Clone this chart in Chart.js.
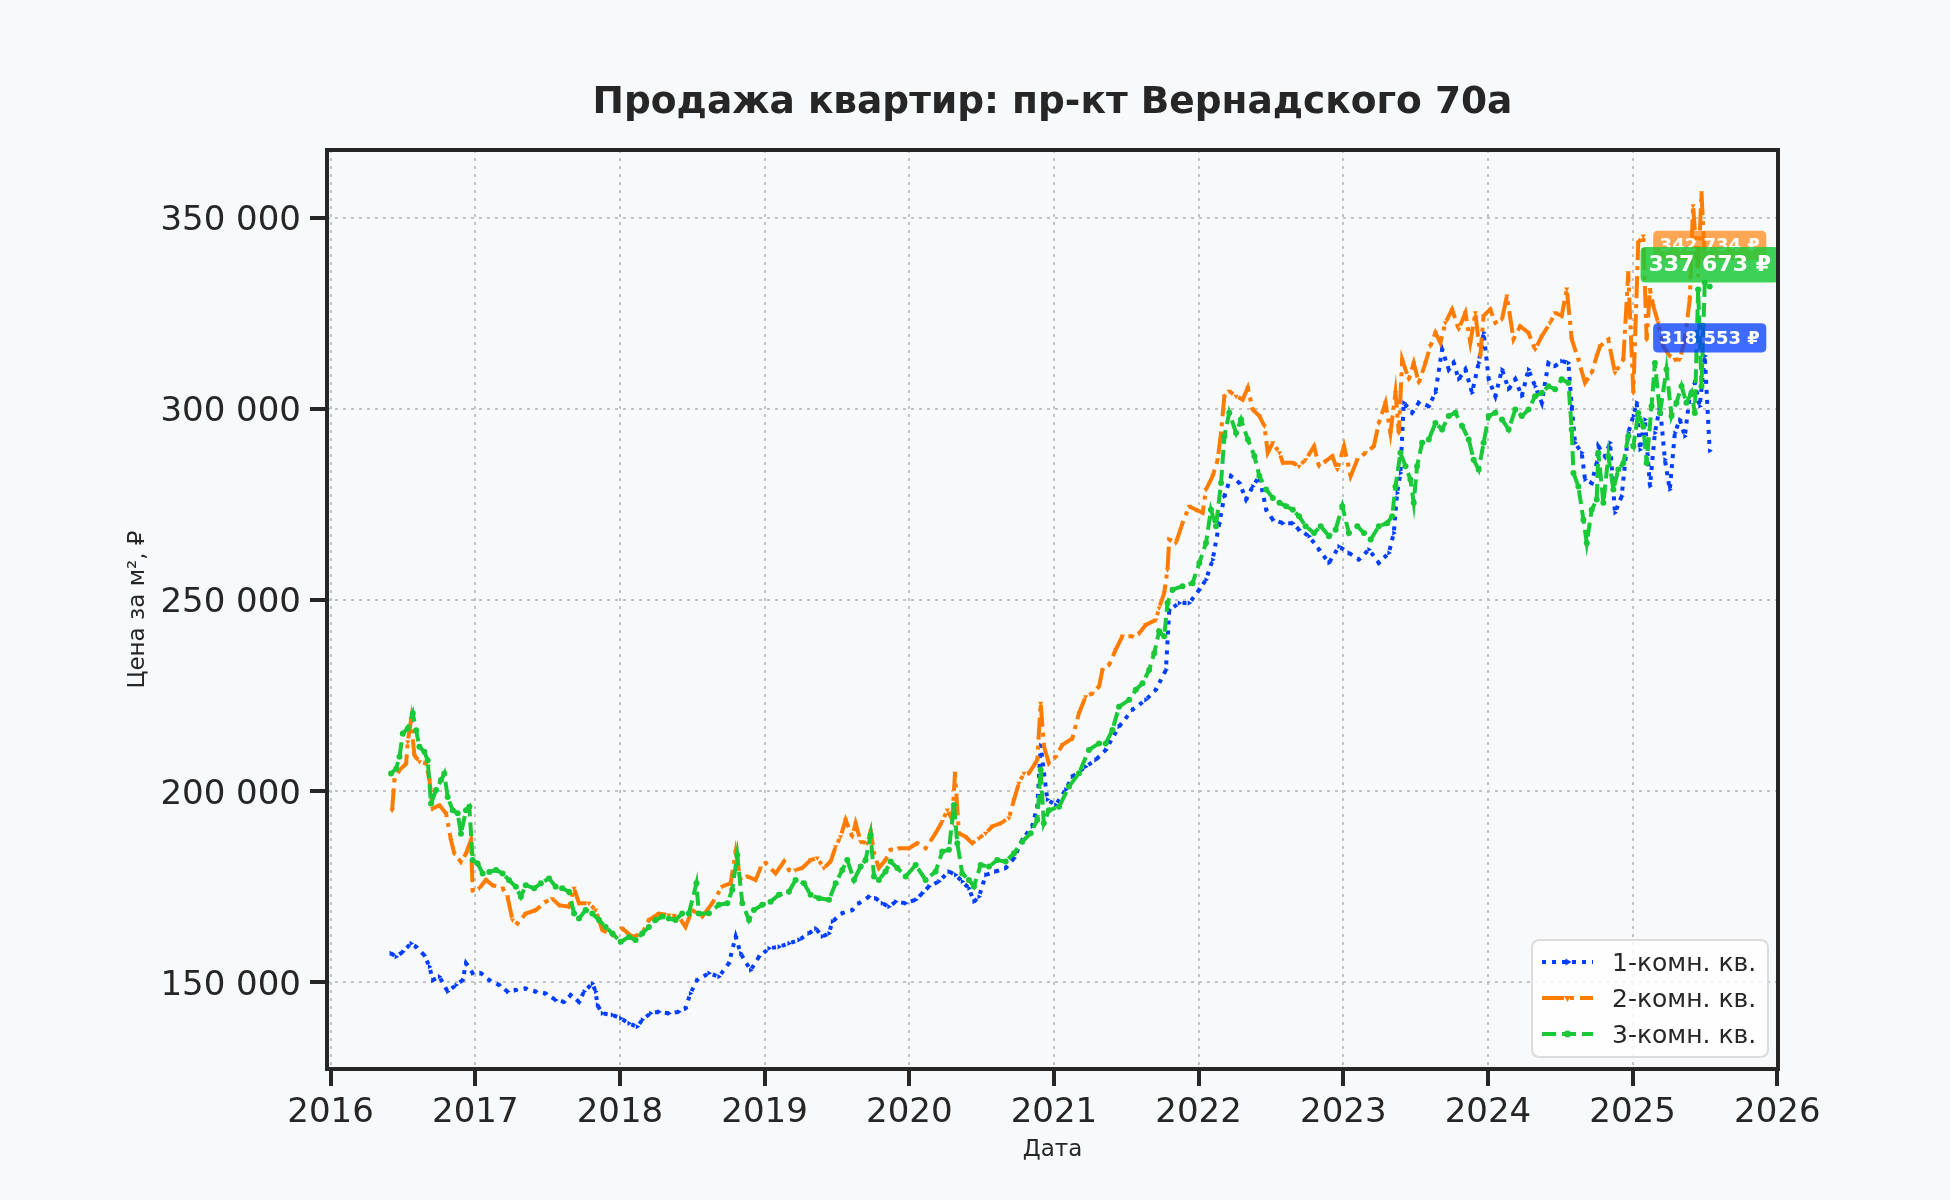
<!DOCTYPE html>
<html>
<head>
<meta charset="utf-8">
<script src="https://cdn.jsdelivr.net/npm/chart.js@4.4.1/dist/chart.umd.min.js"></script>
<style>
html,body{margin:0;padding:0;background:#f8f9fa;}
canvas{display:block;}
</style>
</head>
<body>
<canvas id="c" width="1950" height="1200" style="width:1950px;height:1200px"></canvas>
<script>
// ---------- DATA (decimal years / price per m², ₽) ----------
const chartTitle = 'Продажа квартир: пр-кт Вернадского 70а';
const xAxisLabel = 'Дата';
const yAxisLabel = 'Цена за м², ₽';
const seriesNames = ['1-комн. кв.', '2-комн. кв.', '3-комн. кв.'];
const xTickYears = [2016, 2017, 2018, 2019, 2020, 2021, 2022, 2023, 2024, 2025, 2026];
const yTickValues = [150000, 200000, 250000, 300000, 350000];
const endLabelValues = [318553, 342734, 337673];

const datesOneRoom = [2016.418,2016.453,2016.499,2016.556,2016.591,2016.648,2016.683,2016.706,2016.752,2016.809,2016.867,2016.913,2016.936,2016.982,2017.039,2017.097,2017.166,2017.223,2017.280,2017.349,2017.418,2017.487,2017.556,2017.614,2017.660,2017.717,2017.752,2017.809,2017.832,2017.844,2017.878,2017.947,2018.005,2018.062,2018.120,2018.154,2018.211,2018.269,2018.338,2018.407,2018.453,2018.487,2018.533,2018.615,2018.684,2018.753,2018.800,2018.834,2018.903,2018.961,2019.030,2019.100,2019.168,2019.237,2019.306,2019.353,2019.399,2019.445,2019.468,2019.537,2019.606,2019.652,2019.721,2019.767,2019.813,2019.859,2019.906,2019.975,2020.044,2020.090,2020.136,2020.205,2020.274,2020.320,2020.366,2020.412,2020.447,2020.482,2020.528,2020.597,2020.666,2020.724,2020.781,2020.850,2020.885,2020.908,2020.954,2021.012,2021.081,2021.127,2021.219,2021.289,2021.358,2021.450,2021.543,2021.635,2021.704,2021.774,2021.797,2021.866,2021.935,2022.005,2022.051,2022.097,2022.143,2022.178,2022.224,2022.282,2022.328,2022.374,2022.420,2022.467,2022.513,2022.582,2022.651,2022.694,2022.763,2022.832,2022.901,2022.970,2023.039,2023.108,2023.177,2023.246,2023.315,2023.349,2023.372,2023.395,2023.418,2023.476,2023.522,2023.591,2023.637,2023.683,2023.729,2023.763,2023.798,2023.844,2023.890,2023.936,2023.970,2024.005,2024.051,2024.097,2024.143,2024.189,2024.234,2024.280,2024.326,2024.372,2024.418,2024.464,2024.510,2024.556,2024.579,2024.602,2024.648,2024.671,2024.717,2024.752,2024.763,2024.809,2024.844,2024.878,2024.924,2024.970,2025.005,2025.028,2025.051,2025.085,2025.120,2025.154,2025.189,2025.223,2025.257,2025.292,2025.326,2025.361,2025.395,2025.430,2025.464,2025.499,2025.533];
const pricesOneRoom = [157600,156700,158000,160200,159300,157100,154100,150600,151500,147600,149300,150600,155000,152400,152400,150600,149300,147600,148000,148400,147600,147100,145400,144900,146700,144900,147600,149700,147600,144100,141900,141500,140600,139300,138400,140200,141900,142300,141900,142300,143200,147100,150600,152400,151500,155000,162000,157600,153200,156700,158900,159300,160200,161100,162800,164100,162000,162800,165900,168100,168900,170700,172400,172000,170700,169800,171100,170700,171600,173300,175100,176400,179000,178100,176400,174600,171100,172400,178100,179000,179900,182500,187300,190800,196000,212000,197800,196400,200400,203800,206400,208200,210800,216900,221300,223900,226500,231700,247400,249200,249200,252700,255300,260500,270100,277100,282400,280600,276300,279700,282400,273600,271000,270100,270100,268400,266700,263200,259700,264000,262300,260600,263200,259700,262300,267500,278000,283200,301600,299000,301600,300700,304200,315500,310300,312000,307700,310300,304200,312000,319900,307700,303300,310300,305100,307700,303300,310300,305900,301600,312000,311200,312500,312000,300700,291100,288500,281500,280600,285900,290200,287600,291100,272800,277100,293700,298100,301600,289300,297200,279800,293700,300700,286700,278900,293700,297200,292800,303300,306800,300700,313800,289000];

const datesTwoRoom = [2016.425,2016.441,2016.476,2016.522,2016.533,2016.556,2016.579,2016.614,2016.660,2016.683,2016.706,2016.752,2016.798,2016.832,2016.855,2016.901,2016.936,2016.970,2016.982,2017.028,2017.074,2017.120,2017.189,2017.223,2017.257,2017.292,2017.349,2017.418,2017.487,2017.533,2017.579,2017.648,2017.683,2017.717,2017.786,2017.832,2017.878,2017.947,2018.016,2018.085,2018.154,2018.200,2018.269,2018.338,2018.407,2018.453,2018.499,2018.569,2018.638,2018.707,2018.765,2018.800,2018.834,2018.880,2018.938,2018.972,2019.007,2019.076,2019.134,2019.168,2019.214,2019.260,2019.318,2019.364,2019.410,2019.456,2019.491,2019.525,2019.560,2019.606,2019.629,2019.664,2019.710,2019.733,2019.756,2019.790,2019.836,2019.871,2019.929,2019.998,2020.055,2020.113,2020.182,2020.228,2020.263,2020.297,2020.316,2020.343,2020.389,2020.435,2020.482,2020.528,2020.574,2020.631,2020.689,2020.724,2020.758,2020.793,2020.827,2020.885,2020.908,2020.931,2020.965,2021.012,2021.058,2021.127,2021.173,2021.219,2021.266,2021.312,2021.335,2021.381,2021.427,2021.473,2021.543,2021.589,2021.635,2021.704,2021.727,2021.762,2021.785,2021.797,2021.843,2021.889,2021.935,2021.982,2022.028,2022.051,2022.097,2022.132,2022.155,2022.178,2022.212,2022.259,2022.305,2022.340,2022.374,2022.420,2022.455,2022.478,2022.513,2022.559,2022.582,2022.651,2022.694,2022.740,2022.798,2022.832,2022.878,2022.924,2022.959,2023.005,2023.051,2023.097,2023.154,2023.211,2023.246,2023.292,2023.326,2023.361,2023.384,2023.407,2023.453,2023.487,2023.522,2023.568,2023.602,2023.637,2023.671,2023.706,2023.752,2023.798,2023.844,2023.878,2023.913,2023.947,2023.970,2024.016,2024.051,2024.097,2024.131,2024.177,2024.223,2024.280,2024.326,2024.372,2024.430,2024.464,2024.510,2024.545,2024.579,2024.625,2024.671,2024.717,2024.752,2024.775,2024.832,2024.878,2024.936,2024.970,2025.005,2025.039,2025.074,2025.097,2025.120,2025.143,2025.177,2025.211,2025.257,2025.292,2025.326,2025.361,2025.395,2025.418,2025.453,2025.476,2025.499,2025.533];
const pricesTwoRoom = [195000,202900,205500,207200,212900,218600,209400,207700,207200,202900,195500,196300,194200,187200,183700,181500,183700,187200,174100,174600,176800,175400,174600,172400,166300,165400,168000,168900,171100,171900,170200,169800,174600,170700,170700,168900,163700,162400,164100,161900,162800,166300,168000,167600,167200,164500,168900,167200,170700,175100,175900,184200,176800,177700,176800,179900,181200,178500,181600,179400,179400,179900,182000,182500,179900,181600,185500,188100,192500,188100,191600,186800,186400,189500,183800,179900,182000,184700,185100,185100,186400,185100,189000,192100,195100,192500,204700,189000,188100,186400,187700,189000,190800,191600,193000,197800,202100,204700,204700,208200,223000,211700,207300,209000,212100,213800,220400,224700,225600,227400,231700,233000,237000,240500,240500,241300,243500,244800,247900,251800,257900,265800,264900,270100,274500,273600,272800,278900,282400,286700,293700,303300,304600,303300,302400,305500,299800,298100,295500,288500,291100,288500,285900,285900,285000,286700,290200,285000,286300,287600,284100,290200,282400,286700,288500,290200,296300,301600,293700,304200,293700,312900,307700,312000,306800,312000,316400,319900,317300,322500,326000,320800,325100,317300,325100,313800,324300,326000,322500,323400,329500,318200,321600,319900,315500,319000,322500,325100,324300,331300,318200,312900,306800,309400,313800,316400,318100,309400,312900,335600,304200,343500,345200,318100,331200,326900,322500,316400,313800,312900,312900,318100,328600,353100,334700,356500,339100,342000];

const datesThreeRoom = [2016.418,2016.453,2016.476,2016.499,2016.533,2016.568,2016.591,2016.614,2016.648,2016.671,2016.694,2016.729,2016.763,2016.786,2016.809,2016.844,2016.878,2016.901,2016.936,2016.959,2016.982,2017.016,2017.051,2017.097,2017.143,2017.189,2017.234,2017.280,2017.315,2017.349,2017.407,2017.453,2017.510,2017.556,2017.602,2017.648,2017.683,2017.717,2017.763,2017.809,2017.855,2017.901,2017.947,2018.005,2018.062,2018.108,2018.154,2018.200,2018.246,2018.292,2018.338,2018.384,2018.430,2018.476,2018.529,2018.545,2018.615,2018.684,2018.742,2018.776,2018.811,2018.846,2018.892,2018.926,2018.984,2019.041,2019.099,2019.168,2019.214,2019.272,2019.318,2019.376,2019.445,2019.491,2019.537,2019.571,2019.618,2019.664,2019.698,2019.733,2019.756,2019.790,2019.836,2019.871,2019.917,2019.975,2020.044,2020.113,2020.182,2020.228,2020.274,2020.309,2020.332,2020.366,2020.412,2020.447,2020.493,2020.551,2020.608,2020.666,2020.724,2020.781,2020.839,2020.885,2020.908,2020.930,2020.965,2021.035,2021.104,2021.173,2021.242,2021.312,2021.358,2021.404,2021.450,2021.520,2021.566,2021.612,2021.658,2021.693,2021.727,2021.762,2021.785,2021.820,2021.889,2021.958,2022.005,2022.051,2022.085,2022.120,2022.155,2022.178,2022.212,2022.259,2022.293,2022.340,2022.386,2022.420,2022.467,2022.513,2022.559,2022.605,2022.651,2022.694,2022.740,2022.798,2022.844,2022.901,2022.947,2022.993,2023.039,2023.097,2023.143,2023.189,2023.246,2023.303,2023.338,2023.361,2023.395,2023.430,2023.464,2023.487,2023.510,2023.545,2023.591,2023.637,2023.683,2023.729,2023.775,2023.821,2023.867,2023.901,2023.936,2023.970,2024.005,2024.051,2024.097,2024.143,2024.189,2024.234,2024.280,2024.326,2024.372,2024.418,2024.464,2024.510,2024.556,2024.579,2024.591,2024.625,2024.660,2024.683,2024.717,2024.752,2024.763,2024.798,2024.832,2024.867,2024.901,2024.936,2024.970,2025.005,2025.039,2025.074,2025.097,2025.131,2025.154,2025.189,2025.234,2025.269,2025.303,2025.338,2025.372,2025.407,2025.430,2025.453,2025.476,2025.499,2025.533];
const pricesThreeRoom = [204600,205900,209000,215100,216400,220300,215900,211600,210300,208100,196800,200300,202900,204600,198500,195000,194200,188900,195000,195900,182000,181100,178500,178900,179400,178500,176700,175000,172400,175400,174600,175900,177200,175000,174600,173700,168000,166700,168900,168000,166300,164500,162800,160600,161900,161100,162800,164500,166300,167200,166700,166300,168000,168000,175900,168000,168100,170300,170700,174200,183300,170700,166300,168900,170300,171100,172900,173700,176800,175900,172900,172000,171600,175900,179400,182000,176800,180300,182000,188600,177700,176800,179000,181600,179900,177700,180700,176800,179000,184200,184700,196400,186400,178500,176800,175100,180700,180300,182000,181600,183800,186800,189000,192500,205600,191600,195000,195900,201200,204700,210800,212500,212500,216000,222100,223900,226500,228200,231700,236100,241800,240500,249200,252700,253600,254400,259700,264900,273600,269300,280600,292800,299000,293700,297200,292000,287600,282400,278900,276700,275400,274500,273600,271900,269300,267500,269300,266700,268400,274500,267500,269300,267500,265800,269300,270100,271900,279700,288500,285000,281500,275400,285000,291100,292000,296300,294600,298100,299000,295500,292000,286700,284100,291100,298100,299000,297200,294600,299800,298100,299800,303300,304200,305900,305100,307700,306800,294600,283200,279700,271000,264900,273600,276300,288500,275400,287600,278900,284100,285800,292800,290200,298900,295400,285800,300700,312000,298900,310300,298100,301600,305900,301600,304200,298900,331200,305900,333000,332000];

// ---------- STYLE ----------
const FONT = "'DejaVu Sans', 'Liberation Sans', sans-serif";
const TEXT = '#262626';
const COLORS = ['#023eff', '#ff7c00', '#1ac938'];
const DASHES = [[4, 6], [22, 6, 4, 6], [14, 6]];
const MARKERS = ['right', 'down', 'circle'];
const LABEL_FILL = ['rgba(2,62,255,0.76)', 'rgba(255,124,0,0.66)', 'rgba(26,201,56,0.84)'];
const LABEL_FONT = [18, 18, 22];

function spaced(v) {
  return String(Math.round(v)).replace(/\B(?=(\d{3})+(?!\d))/g, ' ');
}
function toPoints(xs, ys) { return xs.map((x, i) => ({x: x, y: ys[i]})); }

const allDates = [datesOneRoom, datesTwoRoom, datesThreeRoom];
const allPrices = [pricesOneRoom, pricesTwoRoom, pricesThreeRoom];

function drawMarker(ctx, kind, x, y, r, color) {
  ctx.save();
  ctx.fillStyle = color;
  ctx.setLineDash([]);
  ctx.beginPath();
  if (kind === 'right') {
    ctx.moveTo(x + r, y);
    ctx.lineTo(x - r / 2, y - r * 0.866);
    ctx.lineTo(x - r / 2, y + r * 0.866);
  } else if (kind === 'down') {
    ctx.moveTo(x, y + r);
    ctx.lineTo(x - r * 0.866, y - r / 2);
    ctx.lineTo(x + r * 0.866, y - r / 2);
  } else {
    ctx.arc(x, y, r * 0.85, 0, Math.PI * 2);
  }
  ctx.closePath();
  ctx.fill();
  ctx.restore();
}

function roundRect(ctx, x, y, w, h, r) {
  ctx.beginPath();
  ctx.moveTo(x + r, y);
  ctx.lineTo(x + w - r, y);
  ctx.quadraticCurveTo(x + w, y, x + w, y + r);
  ctx.lineTo(x + w, y + h - r);
  ctx.quadraticCurveTo(x + w, y + h, x + w - r, y + h);
  ctx.lineTo(x + r, y + h);
  ctx.quadraticCurveTo(x, y + h, x, y + h - r);
  ctx.lineTo(x, y + r);
  ctx.quadraticCurveTo(x, y, x + r, y);
  ctx.closePath();
}

const decorPlugin = {
  id: 'decor',
  beforeDraw(chart) {
    const ctx = chart.ctx;
    ctx.save();
    ctx.fillStyle = '#f8f9fa';
    ctx.fillRect(0, 0, chart.width, chart.height);
    ctx.restore();
  },
  afterDatasetsDraw(chart) {
    const {ctx, scales} = chart;
    [0, 1, 2].forEach(i => {
      const d = allDates[i];
      const cx = scales.x.getPixelForValue(d[d.length - 1]);
      const cy = scales.y.getPixelForValue(endLabelValues[i]);
      const fs = LABEL_FONT[i];
      ctx.save();
      ctx.font = 'bold ' + fs + 'px ' + FONT;
      const text = spaced(endLabelValues[i]) + ' ₽';
      const tw = ctx.measureText(text).width;
      const padX = fs * 0.36, h = fs * 1.62;
      const w = tw + 2 * padX;
      ctx.fillStyle = LABEL_FILL[i];
      roundRect(ctx, cx - w / 2, cy - h / 2, w, h, 5);
      ctx.fill();
      ctx.fillStyle = '#ffffff';
      ctx.textAlign = 'center';
      ctx.textBaseline = 'middle';
      ctx.fillText(text, cx, cy + 1);
      ctx.restore();
    });
  },
  afterDraw(chart) {
    const {ctx, chartArea: ca} = chart;
    // title, centred over the plot area
    ctx.save();
    ctx.fillStyle = TEXT;
    ctx.font = 'bold 37.5px ' + FONT;
    ctx.textAlign = 'center';
    ctx.textBaseline = 'middle';
    ctx.fillText(chartTitle, (ca.left + ca.right) / 2, 103);
    ctx.restore();
    // spines
    ctx.save();
    ctx.strokeStyle = TEXT;
    ctx.lineWidth = 4;
    ctx.setLineDash([]);
    ctx.strokeRect(ca.left, ca.top, ca.right - ca.left, ca.bottom - ca.top);
    ctx.restore();
    // legend
    const lw = 236, lh = 117;
    const lx = ca.right - 10 - lw, ly = ca.bottom - 12 - lh;
    ctx.save();
    roundRect(ctx, lx, ly, lw, lh, 8);
    ctx.fillStyle = 'rgba(255,255,255,0.82)';
    ctx.fill();
    ctx.strokeStyle = '#dcdcdc';
    ctx.lineWidth = 2;
    ctx.stroke();
    for (let i = 0; i < 3; i++) {
      const ry = ly + 22 + i * 36;
      ctx.save();
      ctx.strokeStyle = COLORS[i];
      ctx.lineWidth = 4;
      ctx.lineCap = 'butt';
      ctx.setLineDash(DASHES[i]);
      ctx.beginPath();
      ctx.moveTo(lx + 10, ry);
      ctx.lineTo(lx + 61, ry);
      ctx.stroke();
      ctx.restore();
      drawMarker(ctx, MARKERS[i], lx + 35.5, ry, 4, COLORS[i]);
      ctx.fillStyle = TEXT;
      ctx.font = '25px ' + FONT;
      ctx.textAlign = 'left';
      ctx.textBaseline = 'middle';
      ctx.fillText(seriesNames[i], lx + 80, ry + 2);
    }
    ctx.restore();
  }
};

Chart.defaults.font.family = FONT;
Chart.defaults.color = TEXT;

const pointStyles = ['triangle', 'triangle', 'circle'];
const pointRotations = [90, 180, 0];

const datasets = [0, 1, 2].map(i => ({
  label: seriesNames[i],
  data: toPoints(allDates[i], allPrices[i]),
  borderColor: COLORS[i],
  backgroundColor: COLORS[i],
  borderWidth: 4,
  borderDash: DASHES[i],
  borderCapStyle: 'butt',
  borderJoinStyle: 'miter',
  tension: 0,
  pointStyle: pointStyles[i],
  pointRotation: pointRotations[i],
  pointRadius: 3,
  pointBorderWidth: 0,
  pointBackgroundColor: COLORS[i],
  fill: false,
  order: 3 - i
}));

new Chart(document.getElementById('c'), {
  type: 'line',
  data: { datasets: datasets },
  plugins: [decorPlugin],
  options: {
    responsive: false,
    animation: false,
    devicePixelRatio: 1,
    layout: { padding: { top: 150, left: 0, right: 172, bottom: 0 } },
    plugins: {
      legend: { display: false },
      tooltip: { enabled: false },
      title: { display: false }
    },
    scales: {
      x: {
        type: 'linear',
        min: 2015.975,
        max: 2026.005,
        afterFit(scale) { scale.height = 131; },
        afterBuildTicks(scale) { scale.ticks = xTickYears.map(v => ({value: v})); },
        ticks: {
          stepSize: 1,
          includeBounds: false,
          autoSkip: false,
          maxRotation: 0,
          minRotation: 0,
          padding: 7,
          color: TEXT,
          font: { size: 34 },
          callback: v => String(v)
        },
        grid: {
          color: '#c2c2c2',
          lineWidth: 2,
          borderDash: [3, 5],
          drawTicks: true,
          tickLength: 17,
          tickWidth: 4,
          tickColor: TEXT,
          tickBorderDash: []
        },
        border: { display: false, dash: [3, 5] },
        title: {
          display: true,
          text: xAxisLabel,
          color: TEXT,
          font: { size: 23, lineHeight: 1.2 },
          padding: { top: 0, bottom: 36 }
        }
      },
      y: {
        type: 'linear',
        min: 127350,
        max: 367680,
        afterFit(scale) { scale.width = 327; },
        afterBuildTicks(scale) { scale.ticks = yTickValues.map(v => ({value: v})); },
        ticks: {
          stepSize: 50000,
          includeBounds: false,
          padding: 9,
          labelOffset: 3.5,
          color: TEXT,
          font: { size: 34 },
          callback: v => spaced(v)
        },
        grid: {
          color: '#c2c2c2',
          lineWidth: 2,
          borderDash: [3, 5],
          drawTicks: true,
          tickLength: 17,
          tickWidth: 4,
          tickColor: TEXT,
          tickBorderDash: []
        },
        border: { display: false, dash: [3, 5] },
        title: {
          display: true,
          text: yAxisLabel,
          color: TEXT,
          font: { size: 23, lineHeight: 1.2 },
          padding: { top: 124, bottom: 0 }
        }
      }
    }
  }
});
</script>
</body>
</html>
